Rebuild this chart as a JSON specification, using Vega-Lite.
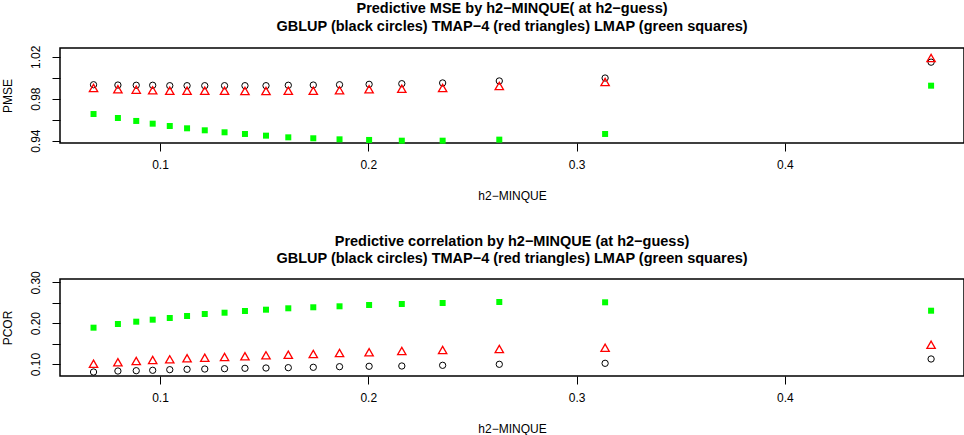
{
  "$schema": "https://vega.github.io/schema/vega-lite/v6.json",
  "padding": {"left": 0, "top": 0, "right": 2, "bottom": 0},
  "background": "white",
  "config": {
    "font": "Liberation Sans",
    "view": {"stroke": "black", "strokeWidth": 1.5},
    "axis": {
      "domain": false, "grid": false, "tickColor": "black", "tickSize": 8, "tickWidth": 1,
      "labelColor": "black", "labelFontSize": 12, "labelFont": "Liberation Sans",
      "titleColor": "black", "titleFontSize": 12, "titleFontWeight": "normal", "titleFont": "Liberation Sans"
    },
    "axisX": {"labelPadding": 8, "titlePadding": 20},
    "axisY": {"labelAngle": -90, "labelPadding": 10, "titlePadding": 15},
    "title": {"fontSize": 14.5, "fontWeight": "bold", "anchor": "middle", "color": "black", "offset": 11, "lineHeight": 17.5, "font": "Liberation Sans"}
  },
  "datasets": {
    "d": [
      {"h2": 0.0681, "method": "GBLUP", "pmse": 0.9933, "pcor": 0.0804},
      {"h2": 0.0798, "method": "GBLUP", "pmse": 0.9930, "pcor": 0.0828},
      {"h2": 0.0886, "method": "GBLUP", "pmse": 0.9928, "pcor": 0.0836},
      {"h2": 0.0965, "method": "GBLUP", "pmse": 0.9928, "pcor": 0.0846},
      {"h2": 0.1047, "method": "GBLUP", "pmse": 0.9924, "pcor": 0.0861},
      {"h2": 0.1130, "method": "GBLUP", "pmse": 0.9924, "pcor": 0.0870},
      {"h2": 0.1215, "method": "GBLUP", "pmse": 0.9924, "pcor": 0.0877},
      {"h2": 0.1310, "method": "GBLUP", "pmse": 0.9924, "pcor": 0.0885},
      {"h2": 0.1408, "method": "GBLUP", "pmse": 0.9924, "pcor": 0.0895},
      {"h2": 0.1509, "method": "GBLUP", "pmse": 0.9924, "pcor": 0.0902},
      {"h2": 0.1616, "method": "GBLUP", "pmse": 0.9928, "pcor": 0.0910},
      {"h2": 0.1736, "method": "GBLUP", "pmse": 0.9930, "pcor": 0.0919},
      {"h2": 0.1862, "method": "GBLUP", "pmse": 0.9933, "pcor": 0.0934},
      {"h2": 0.2004, "method": "GBLUP", "pmse": 0.9937, "pcor": 0.0944},
      {"h2": 0.2161, "method": "GBLUP", "pmse": 0.9943, "pcor": 0.0951},
      {"h2": 0.2357, "method": "GBLUP", "pmse": 0.9950, "pcor": 0.0968},
      {"h2": 0.2629, "method": "GBLUP", "pmse": 0.9969, "pcor": 0.0993},
      {"h2": 0.3137, "method": "GBLUP", "pmse": 0.9997, "pcor": 0.1017},
      {"h2": 0.4702, "method": "GBLUP", "pmse": 1.0148, "pcor": 0.1123},
      {"h2": 0.0681, "method": "TMAP-4", "pmse": 0.9902, "pcor": 0.1007},
      {"h2": 0.0798, "method": "TMAP-4", "pmse": 0.9890, "pcor": 0.1042},
      {"h2": 0.0886, "method": "TMAP-4", "pmse": 0.9886, "pcor": 0.1074},
      {"h2": 0.0965, "method": "TMAP-4", "pmse": 0.9880, "pcor": 0.1098},
      {"h2": 0.1047, "method": "TMAP-4", "pmse": 0.9876, "pcor": 0.1115},
      {"h2": 0.1130, "method": "TMAP-4", "pmse": 0.9876, "pcor": 0.1140},
      {"h2": 0.1215, "method": "TMAP-4", "pmse": 0.9876, "pcor": 0.1154},
      {"h2": 0.1310, "method": "TMAP-4", "pmse": 0.9876, "pcor": 0.1172},
      {"h2": 0.1408, "method": "TMAP-4", "pmse": 0.9874, "pcor": 0.1189},
      {"h2": 0.1509, "method": "TMAP-4", "pmse": 0.9874, "pcor": 0.1213},
      {"h2": 0.1616, "method": "TMAP-4", "pmse": 0.9876, "pcor": 0.1228},
      {"h2": 0.1736, "method": "TMAP-4", "pmse": 0.9876, "pcor": 0.1245},
      {"h2": 0.1862, "method": "TMAP-4", "pmse": 0.9880, "pcor": 0.1270},
      {"h2": 0.2004, "method": "TMAP-4", "pmse": 0.9890, "pcor": 0.1287},
      {"h2": 0.2161, "method": "TMAP-4", "pmse": 0.9895, "pcor": 0.1319},
      {"h2": 0.2357, "method": "TMAP-4", "pmse": 0.9902, "pcor": 0.1343},
      {"h2": 0.2629, "method": "TMAP-4", "pmse": 0.9921, "pcor": 0.1368},
      {"h2": 0.3137, "method": "TMAP-4", "pmse": 0.9959, "pcor": 0.1400},
      {"h2": 0.4702, "method": "TMAP-4", "pmse": 1.0188, "pcor": 0.1473},
      {"h2": 0.0681, "method": "LMAP", "pmse": 0.9654, "pcor": 0.1890},
      {"h2": 0.0798, "method": "LMAP", "pmse": 0.9616, "pcor": 0.1980},
      {"h2": 0.0886, "method": "LMAP", "pmse": 0.9588, "pcor": 0.2037},
      {"h2": 0.0965, "method": "LMAP", "pmse": 0.9562, "pcor": 0.2086},
      {"h2": 0.1047, "method": "LMAP", "pmse": 0.9540, "pcor": 0.2127},
      {"h2": 0.1130, "method": "LMAP", "pmse": 0.9518, "pcor": 0.2176},
      {"h2": 0.1215, "method": "LMAP", "pmse": 0.9499, "pcor": 0.2225},
      {"h2": 0.1310, "method": "LMAP", "pmse": 0.9480, "pcor": 0.2257},
      {"h2": 0.1408, "method": "LMAP", "pmse": 0.9464, "pcor": 0.2299},
      {"h2": 0.1509, "method": "LMAP", "pmse": 0.9448, "pcor": 0.2331},
      {"h2": 0.1616, "method": "LMAP", "pmse": 0.9432, "pcor": 0.2365},
      {"h2": 0.1736, "method": "LMAP", "pmse": 0.9423, "pcor": 0.2390},
      {"h2": 0.1862, "method": "LMAP", "pmse": 0.9413, "pcor": 0.2414},
      {"h2": 0.2004, "method": "LMAP", "pmse": 0.9407, "pcor": 0.2446},
      {"h2": 0.2161, "method": "LMAP", "pmse": 0.9400, "pcor": 0.2471},
      {"h2": 0.2357, "method": "LMAP", "pmse": 0.9400, "pcor": 0.2495},
      {"h2": 0.2629, "method": "LMAP", "pmse": 0.9410, "pcor": 0.2520},
      {"h2": 0.3137, "method": "LMAP", "pmse": 0.9464, "pcor": 0.2512},
      {"h2": 0.4702, "method": "LMAP", "pmse": 0.9924, "pcor": 0.2306}
    ]
  },
  "spacing": 30,
  "vconcat": [
    {
      "width": 904,
      "height": 95,
      "title": {"text": ["Predictive MSE by h2−MINQUE( at h2−guess)", "GBLUP (black circles) TMAP−4 (red triangles) LMAP (green squares)"]},
      "data": {"name": "d"},
      "encoding": {
        "x": {"field": "h2", "type": "quantitative", "title": "h2−MINQUE",
          "scale": {"domain": [0.052, 0.486], "nice": false, "zero": false},
          "axis": {"values": [0.1, 0.2, 0.3, 0.4], "format": ".1f"}},
        "y": {"field": "pmse", "type": "quantitative", "title": "PMSE",
          "scale": {"domain": [0.9378, 1.0283], "nice": false, "zero": false},
          "axis": {"values": [0.94, 0.96, 0.98, 1.0, 1.02],
            "labelExpr": "abs(datum.value - 0.96) < 1e-6 || abs(datum.value - 1) < 1e-6 ? '' : format(datum.value, '.2f')"}}
      },
      "layer": [
        {"transform": [{"filter": "datum.method === 'GBLUP'"}],
         "mark": {"type": "point", "shape": "circle", "filled": false, "stroke": "black", "strokeWidth": 1, "size": 40, "opacity": 1}},
        {"transform": [{"filter": "datum.method === 'TMAP-4'"}],
         "mark": {"type": "point", "shape": "triangle-up", "filled": false, "stroke": "#FF0000", "strokeWidth": 1.3, "size": 70, "opacity": 1}},
        {"transform": [{"filter": "datum.method === 'LMAP'"}],
         "mark": {"type": "square", "color": "#00FF00", "size": 36, "opacity": 1}}
      ]
    },
    {
      "width": 904,
      "height": 97,
      "title": {"text": ["Predictive correlation by h2−MINQUE (at h2−guess)", "GBLUP (black circles) TMAP−4 (red triangles) LMAP (green squares)"], "offset": 4},
      "data": {"name": "d"},
      "encoding": {
        "x": {"field": "h2", "type": "quantitative", "title": "h2−MINQUE",
          "scale": {"domain": [0.052, 0.486], "nice": false, "zero": false},
          "axis": {"values": [0.1, 0.2, 0.3, 0.4], "format": ".1f"}},
        "y": {"field": "pcor", "type": "quantitative", "title": "PCOR",
          "scale": {"domain": [0.0706, 0.3083], "nice": false, "zero": false},
          "axis": {"values": [0.1, 0.15, 0.2, 0.25, 0.3],
            "labelExpr": "abs(datum.value - 0.15) < 1e-6 || abs(datum.value - 0.25) < 1e-6 ? '' : format(datum.value, '.2f')"}}
      },
      "layer": [
        {"transform": [{"filter": "datum.method === 'GBLUP'"}],
         "mark": {"type": "point", "shape": "circle", "filled": false, "stroke": "black", "strokeWidth": 1, "size": 40, "opacity": 1}},
        {"transform": [{"filter": "datum.method === 'TMAP-4'"}],
         "mark": {"type": "point", "shape": "triangle-up", "filled": false, "stroke": "#FF0000", "strokeWidth": 1.3, "size": 70, "opacity": 1}},
        {"transform": [{"filter": "datum.method === 'LMAP'"}],
         "mark": {"type": "square", "color": "#00FF00", "size": 36, "opacity": 1}}
      ]
    }
  ]
}
